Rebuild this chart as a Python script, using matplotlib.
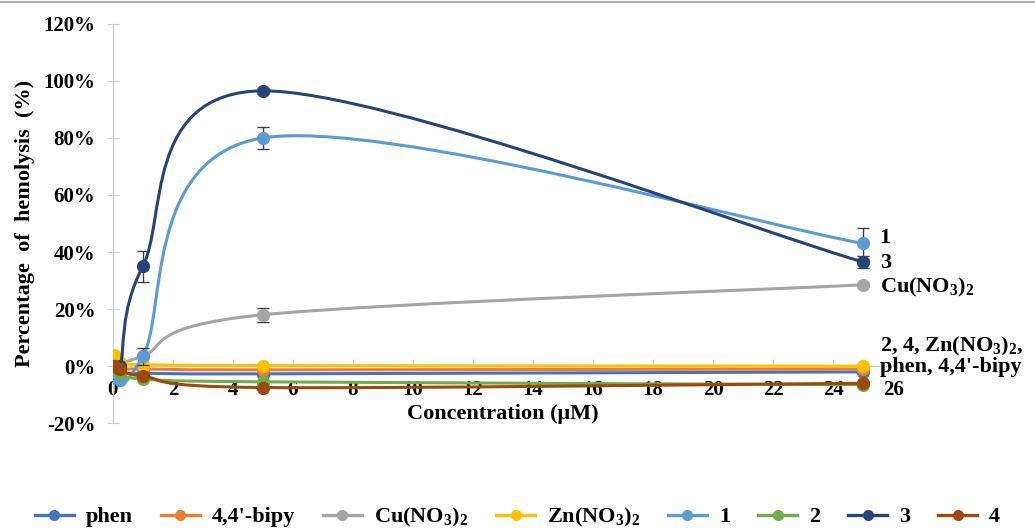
import numpy as np
import matplotlib
matplotlib.use("Agg")
import matplotlib.pyplot as plt
from matplotlib.path import Path
from matplotlib.patches import PathPatch
from matplotlib.lines import Line2D
from matplotlib.ticker import FuncFormatter

plt.rcParams['font.family'] = ['Liberation Serif', 'DejaVu Serif']
plt.rcParams['font.weight'] = 'bold'
plt.rcParams['mathtext.fontset'] = 'custom'
plt.rcParams['mathtext.rm'] = 'Liberation Serif:bold'
plt.rcParams['mathtext.it'] = 'Liberation Serif:bold'
plt.rcParams['mathtext.bf'] = 'Liberation Serif:bold'
plt.rcParams['mathtext.default'] = 'rm'

# concentrations (uM)
conc = [0.05, 0.25, 1, 5, 25]

series_names = ['phen', "4,4'-bipy", 'Cu(NO$_3$)$_2$', 'Zn(NO$_3$)$_2$', '1', '2', '3', '4']
colors = ['#4472C4', '#ED7D31', '#A5A5A5', '#FFC000', '#5B9BD5', '#70AD47', '#264478', '#9E480E']

phen = [-1.0, -2.5, -2.5, -2.7, -2.0]
bipy = [0.0, -1.0, -1.0, -1.3, -1.0]
cu_no3 = [0.0, 1.0, 3.5, 18.0, 28.5]
zn_no3 = [4.0, 1.0, 0.5, 0.2, 0.0]
cpd1 = [-4.0, -5.0, 3.5, 80.0, 43.0]
cpd2 = [-1.0, -2.5, -4.5, -5.5, -6.5]
cpd3 = [0.0, 0.0, 35.0, 96.5, 36.5]
cpd4 = [0.0, -1.0, -3.5, -7.5, -6.0]

err_cu = [0, 0, 0, 2.5, 0.5]
err1 = [0, 0, 3.0, 4.0, 5.5]
err3 = [0, 0, 5.5, 1.0, 2.0]
err_zero = [0, 0, 0, 0, 0]

values = [phen, bipy, cu_no3, zn_no3, cpd1, cpd2, cpd3, cpd4]
errors = [err_zero, err_zero, err_cu, err_zero, err1, err_zero, err3, err_zero]

x_ticks = list(range(0, 27, 2))
y_ticks = [-20, 0, 20, 40, 60, 80, 100, 120]


def smooth_path(x, y):
    x = np.asarray(x, float)
    y = np.asarray(y, float)
    P = np.column_stack([x, y])
    n = len(P)
    verts = [P[0]]
    codes = [Path.MOVETO]
    for i in range(n - 1):
        p0 = P[i - 1] if i > 0 else P[i]
        p1 = P[i]
        p2 = P[i + 1]
        p3 = P[i + 2] if i + 2 < n else P[i + 1]
        c1 = p1 + (p2 - p0) / 6.0
        c2 = p2 - (p3 - p1) / 6.0
        verts += [c1, c2, p2]
        codes += [Path.CURVE4] * 3
    return Path(verts, codes)


fig = plt.figure(figsize=(10.35, 5.29), dpi=100)
ax = fig.add_axes([0.109, 0.2, 0.754, 0.755])

for i, (name, col, vals, err) in enumerate(zip(series_names, colors, values, errors)):
    z = 2 + i
    patch = PathPatch(smooth_path(conc, vals), facecolor='none', edgecolor=col,
                      lw=2.2, zorder=z, capstyle='round')
    ax.add_patch(patch)
    if any(e > 0 for e in err):
        ax.errorbar(conc, vals, yerr=err, fmt='none', ecolor='#404040',
                    elinewidth=1.0, capsize=4, capthick=1.0, zorder=z)
    ax.plot(conc, vals, 'o', color=col, markersize=8.5, zorder=z + 0.5)

ax.set_xlim(0, 26)
ax.set_ylim(-20, 120)
ax.set_xticks(x_ticks)
ax.set_yticks(y_ticks)
ax.yaxis.set_major_formatter(FuncFormatter(lambda v, p: f"{v:.0f}%"))

for s in ['top', 'right']:
    ax.spines[s].set_visible(False)
ax.spines['bottom'].set_position(('data', 0))
ax.spines['bottom'].set_color('#D0D0D0')
ax.spines['left'].set_color('#D0D0D0')
ax.spines['bottom'].set_linewidth(1.0)
ax.spines['left'].set_linewidth(1.0)
ax.spines['bottom'].set_zorder(1)
ax.tick_params(axis='x', direction='in', length=5, color='#D0D0D0', labelsize=15, pad=10)
ax.tick_params(axis='y', direction='inout', length=9, color='#D0D0D0', labelsize=15, pad=8)
for lab in ax.get_xticklabels() + ax.get_yticklabels():
    lab.set_fontweight('bold')

ax.set_xlabel('Concentration (μM)', fontsize=16, fontweight='bold', labelpad=3)
ax.set_ylabel('Percentage  of  hemolysis  (%)', fontsize=16, fontweight='bold', labelpad=6)

# right-side labels
ann_kw = dict(fontsize=16, fontweight='bold', ha='left', va='center', clip_on=False)
ax.text(25.55, 45.0, '1', **ann_kw)
ax.text(25.55, 36.0, '3', **ann_kw)
ax.text(25.55, 27.5, 'Cu(NO$_3$)$_2$', **ann_kw)
ax.text(25.55, 6.9, '2, 4, Zn(NO$_3$)$_2$,', **ann_kw)
ax.text(25.55, -0.3, "phen, 4,4'-bipy", **ann_kw)

handles = [Line2D([0], [0], color=c, lw=2.4, marker='o', markersize=7) for c in colors]
fig.legend(handles, series_names, loc='center', bbox_to_anchor=(0.5, 0.022), ncol=8,
           frameon=False, fontsize=16, handlelength=1.75, columnspacing=1.25,
           handletextpad=0.55)

fig.add_artist(Line2D([0, 1], [0.997, 0.997], color='#B0B0B0', lw=1.5, transform=fig.transFigure))

fig.savefig('out.png', dpi=100)
